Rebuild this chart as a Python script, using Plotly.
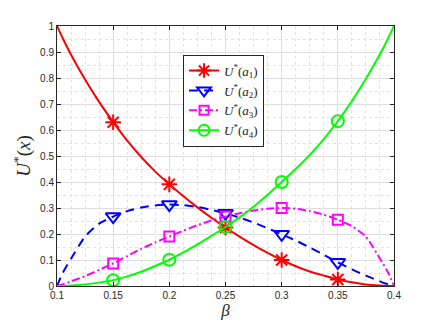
import plotly.graph_objects as go

# beta grid shared by all curves
beta = [0.1, 0.105, 0.1125, 0.125, 0.1375, 0.15, 0.1625, 0.175, 0.1875, 0.2,
        0.2125, 0.225, 0.2375, 0.25, 0.2625, 0.275, 0.2875, 0.3, 0.3125, 0.325,
        0.3375, 0.35, 0.3625, 0.375, 0.3875, 0.395, 0.4]

u_a1 = [1.0, 0.954, 0.8895, 0.7945, 0.708, 0.630, 0.559, 0.496, 0.440, 0.391,
        0.345, 0.3025, 0.2625, 0.225, 0.19, 0.1575, 0.1275, 0.100, 0.076, 0.056,
        0.040, 0.025, 0.014, 0.006, 0.0018, 0.0004, 0.0]
u_a2 = [0.0, 0.05, 0.105, 0.19, 0.24, 0.267, 0.288, 0.302, 0.310, 0.313,
        0.311, 0.304, 0.293, 0.280, 0.263, 0.244, 0.222, 0.199, 0.175, 0.148,
        0.120, 0.091, 0.064, 0.04, 0.018, 0.006, 0.0]
u_a3 = [0.0, 0.006, 0.018, 0.038, 0.062, 0.087, 0.115, 0.143, 0.168, 0.19,
        0.213, 0.234, 0.252, 0.267, 0.28, 0.29, 0.297, 0.30, 0.297, 0.288,
        0.274, 0.255, 0.23, 0.19, 0.105, 0.05, 0.0]
u_a4 = [0.0, 0.0004, 0.0018, 0.006, 0.013, 0.022, 0.037, 0.055, 0.077, 0.101,
        0.129, 0.160, 0.193, 0.227, 0.264, 0.305, 0.351, 0.400, 0.450, 0.504,
        0.565, 0.634, 0.711, 0.797, 0.891, 0.955, 1.0]

marker_beta = [0.15, 0.2, 0.25, 0.3, 0.35]

names = ["<i>U</i><sup>*</sup>(<i>a</i><sub>1</sub>)",
         "<i>U</i><sup>*</sup>(<i>a</i><sub>2</sub>)",
         "<i>U</i><sup>*</sup>(<i>a</i><sub>3</sub>)",
         "<i>U</i><sup>*</sup>(<i>a</i><sub>4</sub>)"]

series = [
    (u_a1, "#FF0000", "solid", "asterisk-open", 13),
    (u_a2, "#0000FF", "9px,6px", "triangle-down-open", 13),
    (u_a3, "#FF00FF", "8px,3px,2px,3px", "square-open", 10),
    (u_a4, "#00FF00", "solid", "circle-open", 12),
]

fig = go.Figure()

for name, (vals, color, dash, symbol, msize) in zip(names, series):
    line = dict(color=color, width=2, dash=dash, shape="spline", smoothing=0.6)
    fig.add_trace(go.Scatter(x=beta, y=vals, mode="lines", line=line,
                             showlegend=False, hoverinfo="skip"))
    mk_y = [vals[beta.index(b)] for b in marker_beta]
    fig.add_trace(go.Scatter(x=marker_beta, y=mk_y, mode="markers",
                             marker=dict(symbol=symbol, size=msize, color=color,
                                         line=dict(color=color, width=2)),
                             showlegend=False))
    # legend entry
    fig.add_trace(go.Scatter(x=[None], y=[None], mode="lines+markers", name=name,
                             line=dict(color=color, width=2, dash=dash),
                             marker=dict(symbol=symbol, size=msize - 1, color=color,
                                         line=dict(color=color, width=2))))

axis_common = dict(
    showline=True, linecolor="#262626", linewidth=1, mirror="allticks",
    ticks="inside", ticklen=4, tickcolor="#262626",
    showgrid=True, gridcolor="#DEDEDE", gridwidth=1,
    tickfont=dict(family="Liberation Sans, Arial", size=10, color="#262626"),
    zeroline=False,
)

fig.update_xaxes(range=[0.1, 0.4], dtick=0.05, tick0=0.1,
                 minor=dict(dtick=0.0125, showgrid=True, gridcolor="#E2E2E2", griddash="dot"),
                 title=dict(text="<i>β</i>", font=dict(family="Liberation Serif", size=17, color="#262626"),
                            standoff=2),
                 **axis_common)
fig.update_yaxes(range=[0, 1], dtick=0.1,
                 minor=dict(dtick=0.05, showgrid=True, gridcolor="#E2E2E2", griddash="dot"),
                 title=dict(text="<i>U</i><sup>*</sup>(<i>x</i>)",
                            font=dict(family="Liberation Serif", size=19, color="#262626"),
                            standoff=4),
                 **axis_common)

# page body has an 8px margin, so the figure is shifted and sized to compensate
fig.update_layout(
    width=428, height=319,
    margin=dict(l=49, r=42, t=17, b=40),
    plot_bgcolor="white", paper_bgcolor="white",
    legend=dict(x=0.374, y=0.89, xanchor="left", yanchor="top",
                bgcolor="white", bordercolor="#262626", borderwidth=1,
                font=dict(family="Liberation Serif", size=13, color="#262626"),
                tracegroupgap=0, itemwidth=30),
)

fig.write_html("out.html")
